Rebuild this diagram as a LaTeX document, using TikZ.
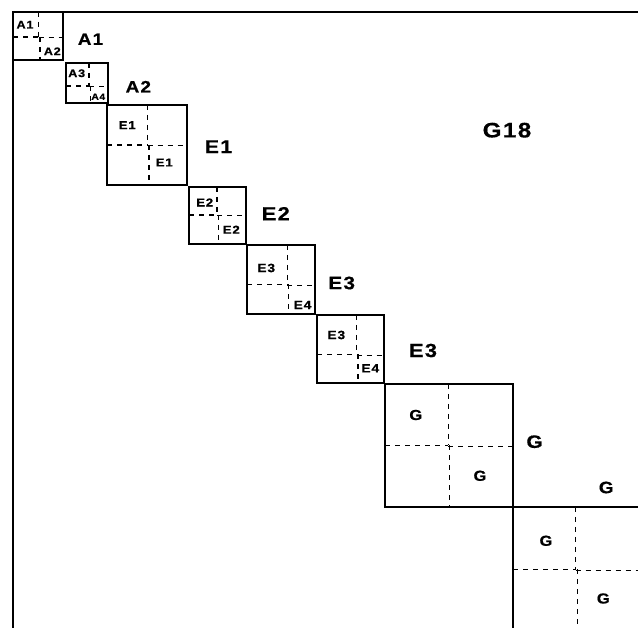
\documentclass[tikz,border=0pt]{standalone}
\usepackage{fontspec}
\setmainfont{Liberation Sans}[LetterSpace=7,FakeStretch=1.15,FakeBold=0.6]
% one block: frame, plus a dashed cross splitting it into quarters
% #1 #2 = top left, #3 #4 = bottom right, #5 = x of the vertical split, #6 = y of the horizontal split
\newcommand\splitblock[6]{%
  \draw[split] (#5,#2) -- (#5,#6);
  \draw[split] ({#5+1.5},#6) -- ({#5+1.5},#4);
  \draw[split] (#1,#6) -- (#5,#6);
  \draw[split] (#5,{#6+0.8}) -- (#3,{#6+0.8});
  \draw[blockbox] (#1,#2) rectangle (#3,#4);
}
\begin{document}
\begin{tikzpicture}[x=1pt,y=-1pt,
  frame/.style={line width=1.2pt},
  blockbox/.style={line width=1.5pt},
  split/.style={line width=1.1pt, dash pattern=on 5pt off 5pt},
  lab/.style={font=\bfseries\fontsize{#1}{#1}\selectfont, inner sep=0pt},
]
\useasboundingbox (0,0) rectangle (638,628);
\clip (0,0) rectangle (638,628);

% outer matrix frame (top and left edges)
\draw[frame] (13,640) -- (13,12) -- (645,12);

% diagonal blocks
\splitblock{13}{12}{63}{60}{38.5}{37}
\splitblock{66}{63}{108}{103}{89}{86}
\splitblock{107}{105}{187}{185}{147.5}{145}
\splitblock{189}{187}{246}{244}{217}{215}
\splitblock{247}{245}{315}{314}{287.3}{284.3}
\splitblock{317}{315}{384}{383}{356.5}{354.5}
\splitblock{385}{384}{513}{507}{448.3}{445.3}
\splitblock{513}{507}{660}{660}{575.7}{569.3}

% labels inside the blocks
\node[lab=11] (a1i) at (25,24.7) {A1};
\node[lab=11] (a2i) at (52.3,51.3) {A2};
\node[lab=11] (a3i) at (76.7,73.3) {A3};
\node[lab=9]  (a4i) at (98.3,96.7) {A4};
\node[lab=11.5] (e1i) at (127.2,125.2) {E1};
\node[lab=11.5] (e1j) at (164.2,162.5) {E1};
\node[lab=11.5] (e2i) at (204.7,202.5) {E2};
\node[lab=11.5] (e2j) at (231.3,229.7) {E2};
\node[lab=12] (e3i) at (266.2,268) {E3};
\node[lab=12] (e4i) at (302.5,305) {E4};
\node[lab=12] (e3j) at (336.3,335) {E3};
\node[lab=12] (e4j) at (370.3,368.3) {E4};
\node[lab=14.5] (g1i) at (415.8,415) {G};
\node[lab=14.5] (g1j) at (480,475.8) {G};
\node[lab=14.5] (g2i) at (546,540.8) {G};
\node[lab=14.5] (g2j) at (603.3,598.5) {G};

% block names beside the blocks
\node[lab=16.5] (a1) at (90.5,39.2) {A1};
\node[lab=16.5] (a2) at (138.3,86.7) {A2};
\node[lab=18.5] (e1) at (218.5,146.7) {E1};
\node[lab=19] (e2) at (275.8,213.7) {E2};
\node[lab=18] (e3) at (341.7,283) {E3};
\node[lab=19] (e3b) at (423,350.5) {E3};
\node[lab=18] (g1) at (534.5,441.7) {G};
\node[lab=16.5] (g2) at (606.2,487.5) {G};
\node[lab=21] (g18) at (507,130.2) {G18};
\end{tikzpicture}
\end{document}
